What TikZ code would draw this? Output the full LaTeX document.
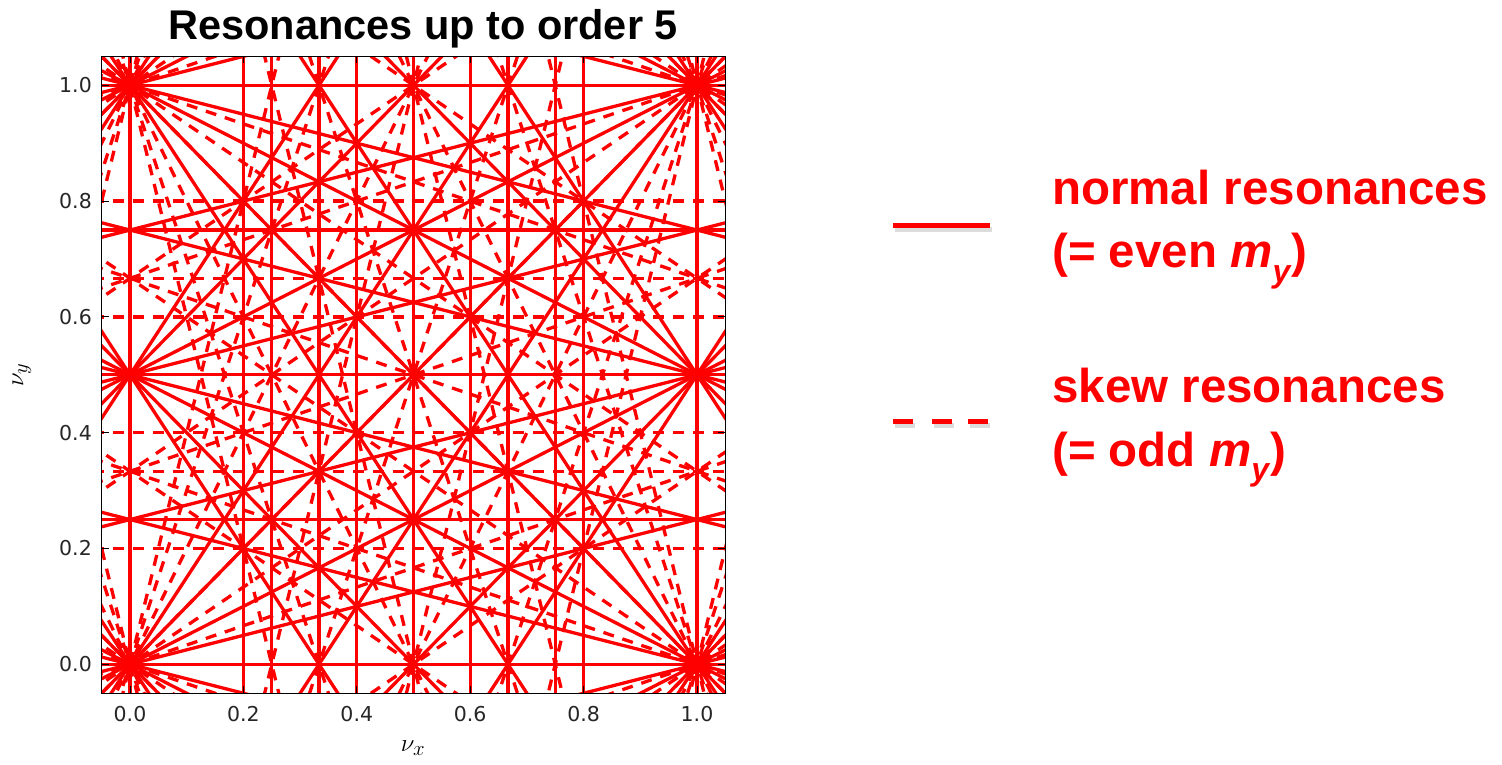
\documentclass[tikz,border=0pt]{standalone}
\usepackage{fontspec}
\setmainfont{Liberation Sans}
\newfontfamily\tickfont{DejaVu Sans}
\definecolor{resred}{RGB}{255,0,0}
\tikzset{
  res/.style={resred, line width=3.3pt},
  skewres/.style={res, dash pattern=on 11pt off 9pt},
  axtick/.style={black, line width=1pt},
  ticklab/.style={text=black!85, font=\tickfont\fontsize{20.5}{22}\selectfont, inner sep=0pt},
  legtext/.style={text=resred, font=\fontsize{47.5}{50}\selectfont\bfseries, inner sep=0pt, anchor=base west},
  legline/.style={resred, line width=5pt},
  legshadow/.style={black!30, opacity=0.45, line width=5pt},
}
\begin{document}
\begin{tikzpicture}[x=1pt,y=1pt]
\useasboundingbox (0,0) rectangle (1502,764);
% title
\node[anchor=base, inner sep=0pt, font=\fontsize{41.5}{44}\selectfont\bfseries] (title) at (423,724) {Resonances up to order 5};
% plot
\begin{scope}[xshift=130pt,yshift=99.7pt,x=567pt,y=579pt]
  \begin{scope}
    \clip (-0.05,-0.05) rectangle (1.05,1.05);
    \foreach \m in {-5,...,5}{
      \foreach \n in {0,...,5}{
        \pgfmathtruncatemacro\ord{abs(\m)+\n}
        \pgfmathtruncatemacro\good{(\ord>0)*(\ord<6)*(((\n>0)+(\m>0))>0)}
        \ifnum\good=1
          \pgfmathtruncatemacro\odd{mod(\n,2)}
          \pgfmathtruncatemacro\pmin{min(\m,0)-1}
          \pgfmathtruncatemacro\pmax{max(\m,0)+\n+1}
          \foreach \p in {\pmin,...,\pmax}{
            \ifnum\n=0
              \draw[res] ({\p/\m},-0.1) -- ({\p/\m},1.1);
            \else
              \ifnum\odd=1
                \draw[skewres] (-0.1,{(\p+0.1*(\m))/\n}) -- (1.1,{(\p-1.1*(\m))/\n});
              \else
                \draw[res] (-0.1,{(\p+0.1*(\m))/\n}) -- (1.1,{(\p-1.1*(\m))/\n});
              \fi
            \fi
          }
        \fi
      }
    }
  \end{scope}
  % frame
  \draw[black, line width=1.3pt] (-0.05,-0.05) rectangle (1.05,1.05);
  % ticks and labels
  \foreach \t/\l [count=\i] in {0/0.0,0.2/0.2,0.4/0.4,0.6/0.6,0.8/0.8,1.0/1.0}{
    \draw[axtick] (\t,-0.05) -- ++(0,7pt);
    \draw[axtick] (\t,1.05) -- ++(0,-7pt);
    \draw[axtick] (-0.05,\t) -- ++(7pt,0);
    \draw[axtick] (1.05,\t) -- ++(-7pt,0);
    \node[ticklab] (xl\i) at (\t,-0.0858) {\l};
    \node[ticklab, anchor=east] (yl\i) at (-0.067,\t) {\l};
  }
\end{scope}
% axis labels
\node[font=\fontsize{32}{34}\selectfont, inner sep=0pt] (nux) at (413,16) {$\nu_x$};
\node[font=\fontsize{32}{34}\selectfont, inner sep=0pt, rotate=90] (nuy) at (22,389) {$\nu_y$};
% legend
\coordinate (s1) at (893,538);
\coordinate (s2) at (990,538);
\draw[legshadow] ([shift={(1.5,-3.5)}]s1) -- ([shift={(1.5,-3.5)}]s2);
\draw[legline] (s1) -- (s2);
\coordinate (d1a) at (893,342); \coordinate (d1b) at (913,342);
\coordinate (d2a) at (932,342); \coordinate (d2b) at (952,342);
\coordinate (d3a) at (968,342); \coordinate (d3b) at (988,342);
\foreach \a/\b in {d1a/d1b,d2a/d2b,d3a/d3b}{
  \draw[legshadow] ([shift={(1.5,-3.5)}]\a) -- ([shift={(1.5,-3.5)}]\b);
  \draw[legline] (\a) -- (\b);
}
\node[legtext] (normal) at (1052,559) {normal resonances};
\node[legtext] (even) at (1052,496) {(= even \textit{m}\raisebox{-0.3em}{\fontsize{32}{32}\selectfont\textit{y}})};
\node[legtext] (skew) at (1052,361) {skew resonances};
\node[legtext] (odd) at (1052,298) {(= odd \textit{m}\raisebox{-0.3em}{\fontsize{32}{32}\selectfont\textit{y}})};
\end{tikzpicture}
\end{document}
